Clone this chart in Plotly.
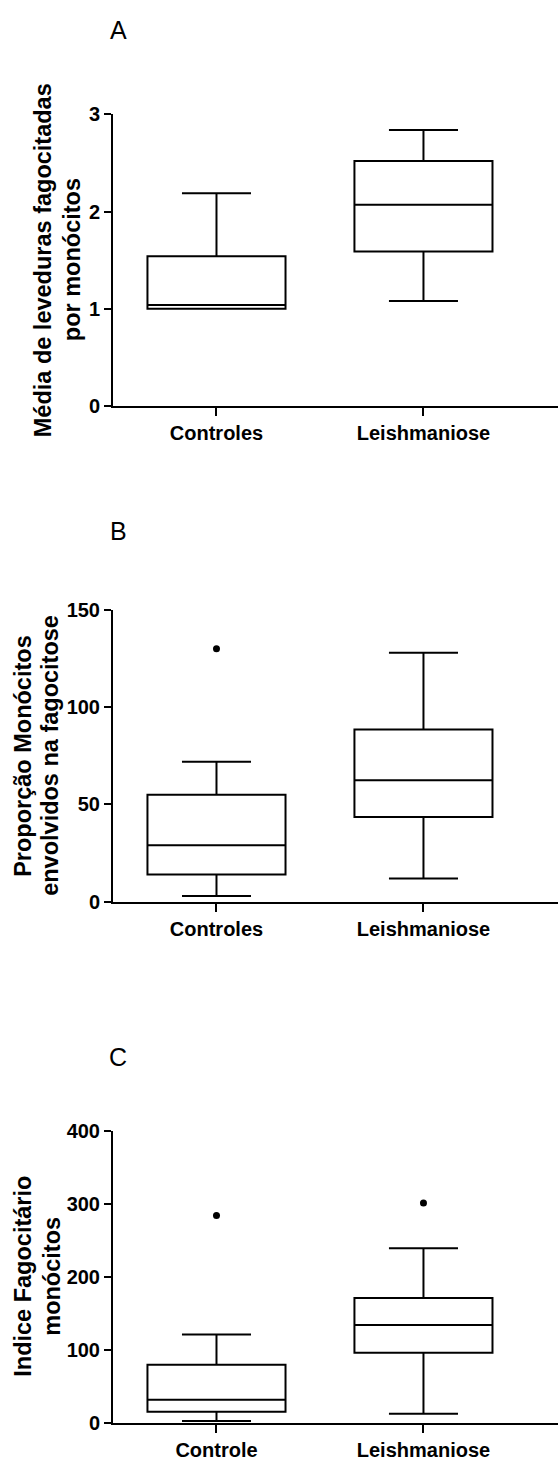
import plotly.graph_objects as go

W, H = 558, 1468

# Panel A
cats_a = ["Controles", "Leishmaniose"]
a_low = [1.0, 1.08]
a_q1 = [1.0, 1.59]
a_med = [1.04, 2.07]
a_q3 = [1.54, 2.52]
a_high = [2.19, 2.84]
a_out_x, a_out_y = [], []
a_ticks = [0, 1, 2, 3]

# Panel B
cats_b = ["Controles", "Leishmaniose"]
b_low = [3, 12]
b_q1 = [14, 43.5]
b_med = [29, 62.5]
b_q3 = [55, 88.5]
b_high = [72, 128]
b_out_x = ["Controles"]
b_out_y = [130]
b_ticks = [0, 50, 100, 150]

# Panel C
cats_c = ["Controle", "Leishmaniose"]
c_low = [2.5, 12.5]
c_q1 = [15, 96]
c_med = [31.5, 134]
c_q3 = [79.5, 171]
c_high = [121, 239]
c_out_x = ["Controle", "Leishmaniose"]
c_out_y = [284, 301]
c_ticks = [0, 100, 200, 300, 400]

FONT = "Liberation Sans, Arial, sans-serif"

def py(p):
    return 1 - p / H

fig = go.Figure()

panels = [
    dict(cats=cats_a, low=a_low, q1=a_q1, med=a_med, q3=a_q3, high=a_high,
         ox=a_out_x, oy=a_out_y, ticks=a_ticks, rng=[0, 3], top=105, bot=401,
         letter="A", ly=19, titles=["Média de leveduras fagocitadas", "por monócitos"], tx=[43, 72]),
    dict(cats=cats_b, low=b_low, q1=b_q1, med=b_med, q3=b_q3, high=b_high,
         ox=b_out_x, oy=b_out_y, ticks=b_ticks, rng=[0, 150], top=608, bot=904.3,
         letter="B", ly=528, titles=["Proporção Monócitos", "envolvidos na fagocitose"], tx=[23, 50]),
    dict(cats=cats_c, low=c_low, q1=c_q1, med=c_med, q3=c_q3, high=c_high,
         ox=c_out_x, oy=c_out_y, ticks=c_ticks, rng=[0, 400], top=1136.7, bot=1433.3,
         letter="C", ly=1062, titles=["Indice Fagocitário", "monócitos"], tx=[23, 52]),
]

annotations = []
for i, p in enumerate(panels):
    n = "" if i == 0 else str(i + 1)
    xa, ya = "x" + n, "y" + n
    fig.add_trace(go.Box(
        x=p["cats"], q1=p["q1"], median=p["med"], q3=p["q3"],
        lowerfence=p["low"], upperfence=p["high"],
        boxpoints=False, width=0.667, whiskerwidth=0.5,
        line=dict(color="black", width=2), fillcolor="white",
        xaxis=xa, yaxis=ya, showlegend=False, hoverinfo="skip"))
    if p["ox"]:
        fig.add_trace(go.Scatter(
            x=p["ox"], y=p["oy"], mode="markers",
            marker=dict(color="black", size=7),
            xaxis=xa, yaxis=ya, showlegend=False))
    dom = [py(p["bot"]), py(p["top"])]
    fig.update_layout(**{
        "xaxis" + n: dict(domain=[113 / W, 1], type="category",
                          categoryorder="array", categoryarray=p["cats"],
                          range=[-0.5, 1.65], showline=True, linewidth=2, linecolor="black",
                          ticks="outside", ticklen=8, tickwidth=2, tickcolor="black",
                          showgrid=False, zeroline=False, anchor=ya,
                          tickfont=dict(family=FONT, size=20, color="black", weight="bold")),
        "yaxis" + n: dict(domain=dom, range=p["rng"], tickvals=p["ticks"],
                          showline=True, linewidth=2, linecolor="black",
                          ticks="outside", ticklen=7, tickwidth=2, tickcolor="black",
                          showgrid=False, zeroline=False, anchor=xa,
                          tickfont=dict(family=FONT, size=20, color="black", weight="bold")),
    })
    annotations.append(dict(text=p["letter"], x=118 / W, y=py(p["ly"]), xref="paper", yref="paper",
                            showarrow=False, xanchor="center", yanchor="middle",
                            font=dict(family=FONT, size=25, color="black")))
    yc = py((p["top"] + p["bot"]) / 2)
    for t, x in zip(p["titles"], p["tx"]):
        annotations.append(dict(text=t, x=x / W, y=yc, xref="paper", yref="paper",
                                showarrow=False, xanchor="center", yanchor="middle", textangle=-90,
                                font=dict(family=FONT, size=23.5, color="black", weight="bold")))

fig.update_layout(width=W, height=H, margin=dict(l=0, r=0, t=0, b=0),
                  paper_bgcolor="white", plot_bgcolor="white",
                  annotations=annotations, showlegend=False)

fig.write_html("out.html")
